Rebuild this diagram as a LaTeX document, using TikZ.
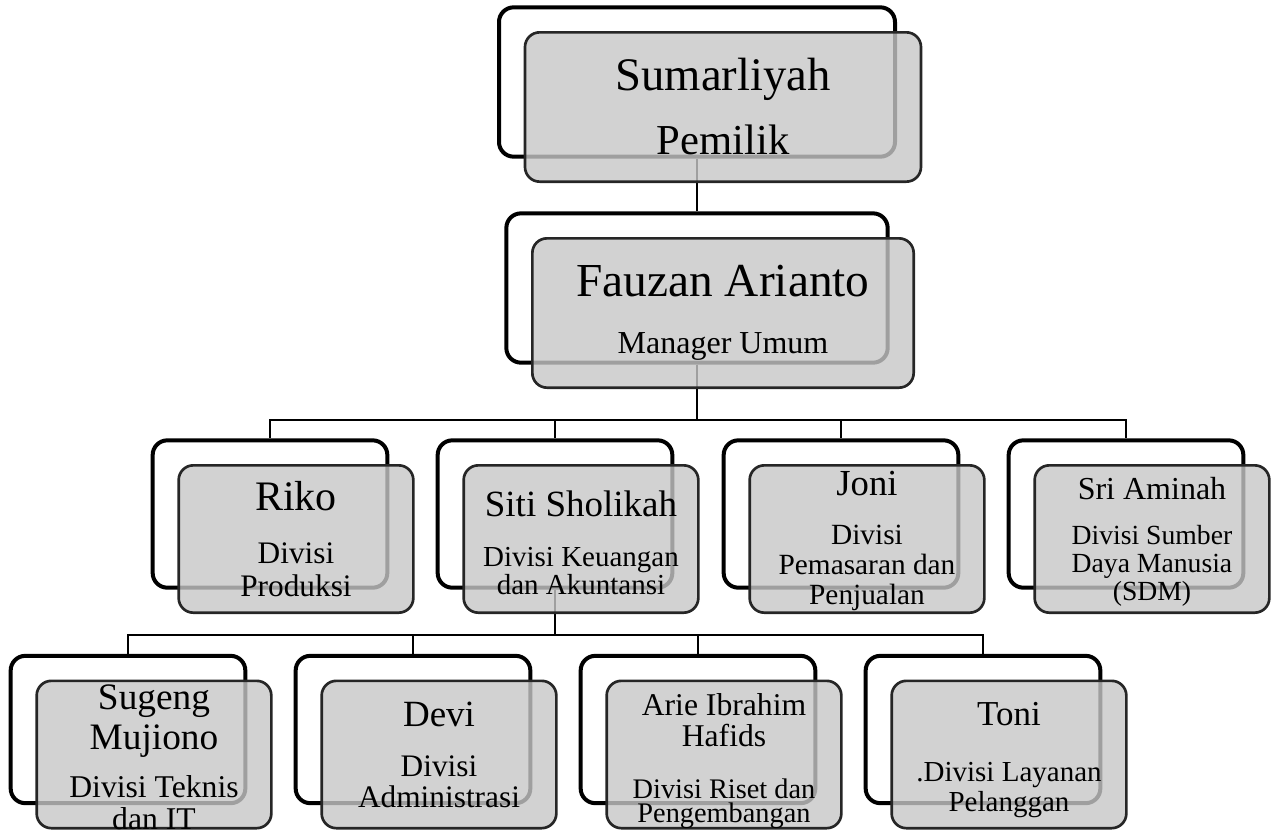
\documentclass[tikz,border=0pt]{standalone}
\usepackage{fontspec}
\setmainfont{Liberation Serif}
\setlength{\parindent}{0pt}
\lineskiplimit=-100pt
\newcommand{\nama}[3]{{\fontsize{#1}{#2}\selectfont\spaceskip=0pt\xspaceskip=0pt #3\par}}
\newcommand{\tugas}[4]{{\fontsize{#1}{#2}\selectfont\spaceskip=0pt\xspaceskip=0pt\vspace*{#3}#4\par}}
\newcommand{\turun}[1]{\par\vskip -#1\hrule height 0pt width 0pt}
\tikzset{
  belakang/.style={draw=black, line width=3pt, fill=white, rounded corners=11pt, inner sep=0pt},
  depan/.style={draw=black!85, line width=2pt, fill=black!22, fill opacity=0.8, text opacity=1,
    rounded corners=11pt, inner sep=0pt, align=flush center, xshift=19.5pt, yshift=-18.75pt},
  garis/.style={line width=1.5pt},
  besar/.style={minimum width=297pt, minimum height=112pt, text width=280pt},
  sedang/.style={minimum width=286pt, minimum height=112pt, text width=270pt},
  kecil/.style={minimum width=176pt, minimum height=110.5pt, text width=170pt}
}
\begin{document}
\begin{tikzpicture}[x=0.75pt, y=-0.75pt]
\useasboundingbox (0,0) rectangle (1275,829);
% kotak belakang
\node (pemilik) [belakang, besar] at (697,82) {};
\node (manager) [belakang, sedang] at (697,288) {};
\node (produksi) [belakang, kecil] at (270,514) {};
\node (keuangan) [belakang, kecil] at (555,514) {};
\node (pemasaran) [belakang, kecil] at (841,514) {};
\node (sdm) [belakang, kecil] at (1126,514) {};
\node (teknis) [belakang, kecil] at (128,729.5) {};
\node (admin) [belakang, kecil] at (413,729.5) {};
\node (riset) [belakang, kecil] at (698,729.5) {};
\node (layanan) [belakang, kecil] at (983,729.5) {};
% garis
\coordinate (bus1) at (0,420);
\coordinate (bus2) at (0,635);
\draw[garis] (pemilik.south) -- (manager.north);
\draw[garis] (manager.south) |- (produksi.north |- bus1) -- (produksi.north);
\draw[garis] (manager.south) |- (keuangan.north |- bus1) -- (keuangan.north);
\draw[garis] (manager.south) |- (pemasaran.north |- bus1) -- (pemasaran.north);
\draw[garis] (manager.south) |- (sdm.north |- bus1) -- (sdm.north);
\draw[garis] (keuangan.south) |- (teknis.north |- bus2) -- (teknis.north);
\draw[garis] (keuangan.south) |- (admin.north |- bus2) -- (admin.north);
\draw[garis] (keuangan.south) |- (riset.north |- bus2) -- (riset.north);
\draw[garis] (keuangan.south) |- (layanan.north |- bus2) -- (layanan.north);
% kotak depan
\node (pemilik-isi) [depan, besar] at (pemilik) {\nama{35}{42}{Sumarliyah}\tugas{32}{48}{0pt}{Pemilik}};
\node (manager-isi) [depan, sedang] at (manager) {\nama{35.5}{42}{Fauzan Arianto}\tugas{24}{42.75}{0pt}{Manager Umum}};
\node (produksi-isi) [depan, kecil] at (produksi) {\nama{31.5}{38}{Riko}\tugas{23.5}{24.75}{15pt}{Divisi\par Produksi}};
\node (keuangan-isi) [depan, kecil] at (keuangan) {\nama{27.75}{33}{Siti Sholikah}\tugas{21.75}{21}{16.5pt}{Divisi Keuangan\par dan Akuntansi}\turun{6pt}};
\node (pemasaran-isi) [depan, kecil] at (pemasaran) {\nama{27.5}{33}{Joni}\tugas{22}{22.5}{14.25pt}{Divisi\par Pemasaran dan\par Penjualan}\turun{3pt}};
\node (sdm-isi) [depan, kecil] at (sdm) {\nama{24}{29}{Sri Aminah}\tugas{20.75}{21}{12.75pt}{Divisi Sumber\par Daya Manusia\par (SDM)}\turun{4.5pt}};
\node (teknis-isi) [depan, kecil] at (teknis) {\nama{28}{30}{Sugeng\par Mujiono}\tugas{23.75}{24}{12pt}{Divisi Teknis\par dan IT}\turun{4.5pt}};
\node (admin-isi) [depan, kecil] at (admin) {\nama{27.75}{33}{Devi}\tugas{23.5}{23.25}{14.25pt}{Divisi\par Administrasi}};
\node (riset-isi) [depan, kecil] at (riset) {\nama{23.75}{23.25}{Arie Ibrahim\par Hafids}\tugas{21.25}{18}{21pt}{Divisi Riset dan\par Pengembangan}\turun{10.5pt}};
\node (layanan-isi) [depan, kecil] at (layanan) {\nama{26.25}{31}{Toni}\tugas{21.75}{22.5}{19.5pt}{.Divisi Layanan\par Pelanggan}\turun{9pt}};
\end{tikzpicture}
\end{document}
